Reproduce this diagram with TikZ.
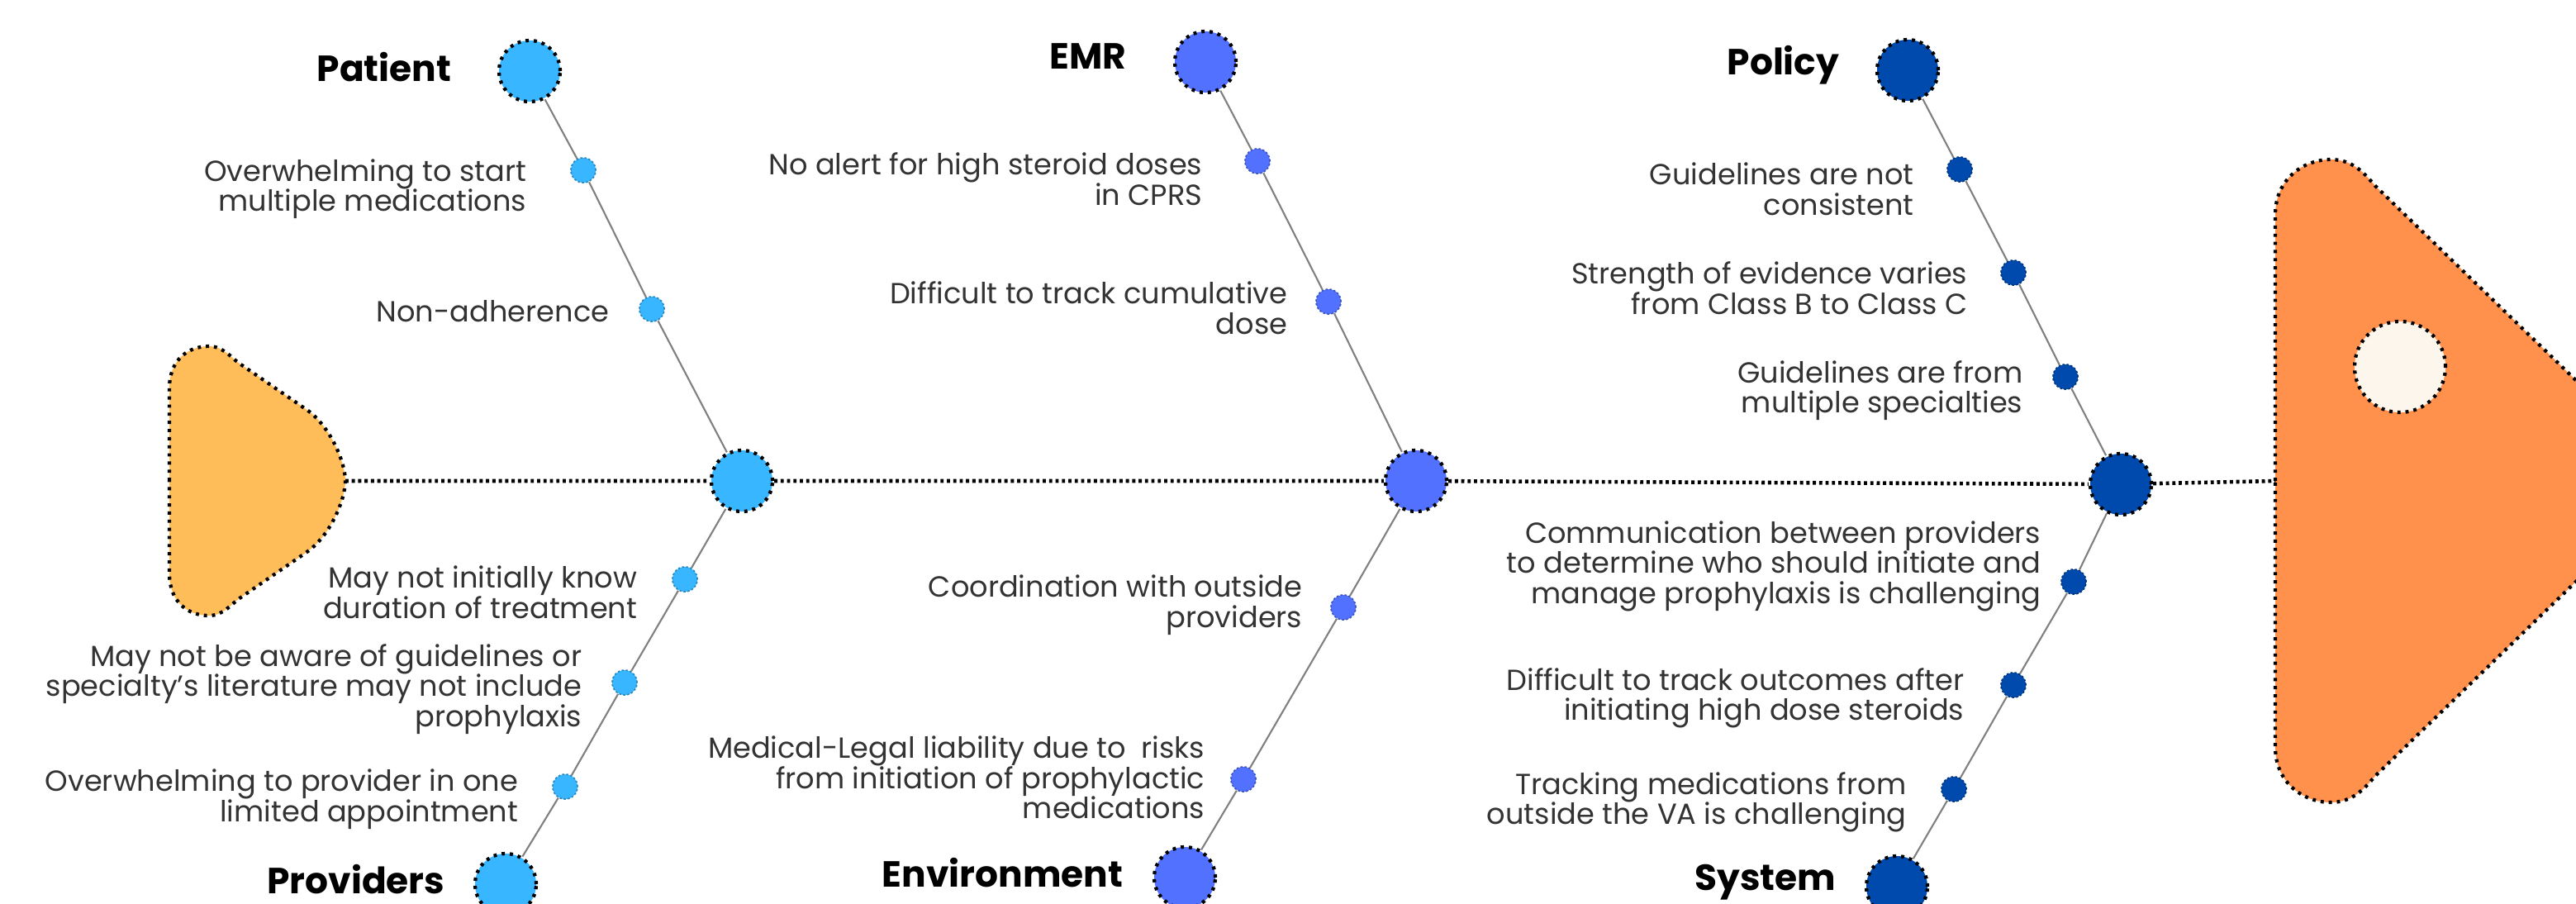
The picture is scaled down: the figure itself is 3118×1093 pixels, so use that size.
\documentclass[tikz,border=0pt]{standalone}
\usepackage{fontspec}
\setmainfont{Poppins}
\definecolor{cLight}{HTML}{38B6FF}
\definecolor{cMid}{HTML}{5271FF}
\definecolor{cDark}{HTML}{004AAD}
\definecolor{cTail}{HTML}{FFBD59}
\definecolor{cHead}{HTML}{FF914D}
\definecolor{cCream}{HTML}{FDF6EC}
\definecolor{txt}{HTML}{333333}
\tikzset{
  dotborder/.style={draw=black, line width=1.2pt, dash pattern=on 1.1pt off 1.7pt},
  bigdot/.style={circle, minimum size=0.74cm, inner sep=0pt, dotborder},
  smalldot/.style={circle, minimum size=0.30cm, inner sep=0pt, draw=#1!75!black, line width=0.5pt, dash pattern=on 0.7pt off 0.7pt, fill=#1},
  spine/.style={draw=black, line width=1.3pt, dash pattern=on 1.1pt off 1.1pt},
  branch/.style={draw=gray, line width=0.6pt},
  item/.style={anchor=east, align=right, inner sep=0pt, text=txt, font=\fontsize{10}{10.4}\selectfont},
  cat/.style={anchor=east, inner sep=0pt, text=black, font=\bfseries\fontsize{12.5}{14}\selectfont},
}
\begin{document}
\begin{tikzpicture}[x=0.01cm, y=-0.01cm]
\useasboundingbox (0,0) rectangle (3118,1093);
\fill[white] (0,0) rectangle (3118,1093);
\begin{scope}
\clip (0,0) rectangle (3118,1093);
% tail
\path[fill=cTail, dotborder] (205,582) -- (205,470)
  .. controls (205,435) and (228,419) .. (253,419)
  .. controls (270,419) and (280,433) .. (290,440)
  -- (370,495) .. controls (400,515) and (418,560) .. (418,582)
  .. controls (418,604) and (400,649) .. (370,669)
  -- (290,724) .. controls (280,731) and (270,745) .. (253,745)
  .. controls (228,745) and (205,729) .. (205,694) -- cycle;
% head
\path[fill=cHead, dotborder] (2754,582) -- (2754,260)
  .. controls (2754,215) and (2790,193) .. (2821,193)
  .. controls (2848,193) and (2862,210) .. (2875,225)
  -- (3190,530) .. controls (3215,555) and (3225,570) .. (3230,582)
  .. controls (3225,594) and (3215,609) .. (3190,634)
  -- (2875,939) .. controls (2862,954) and (2848,971) .. (2821,971)
  .. controls (2790,971) and (2754,949) .. (2754,904) -- cycle;
\end{scope}
\node[circle, minimum size=1.10cm, inner sep=0pt, fill=cCream, dotborder] (eye) at (2905,444) {};
\coordinate (tailtip) at (418,582);
\coordinate (headL) at (2754,582);

% junctions
\node[bigdot, fill=cLight] (J1) at (898,582) {};
\node[bigdot, fill=cMid] (J2) at (1714,582) {};
\node[bigdot, fill=cDark] (J3) at (2567,586) {};
\draw[spine] (tailtip) -- (J1) (J1) -- (J2) (J2) -- (J3) (J3) -- (headL);

% category circles
\node[bigdot, fill=cLight] (P) at (641,86) {};
\node[bigdot, fill=cLight] (R) at (612,1070) {};
\node[bigdot, fill=cMid] (E) at (1459,75) {};
\node[bigdot, fill=cMid] (V) at (1434,1062) {};
\node[bigdot, fill=cDark] (Y) at (2309,85) {};
\node[bigdot, fill=cDark] (S) at (2296,1073) {};

% item dots
\node[smalldot=cLight] (p1) at (706,206) {};
\node[smalldot=cLight] (p2) at (789,374) {};
\node[smalldot=cLight] (r1) at (829,701) {};
\node[smalldot=cLight] (r2) at (756,826) {};
\node[smalldot=cLight] (r3) at (684,952) {};
\node[smalldot=cMid] (e1) at (1522,195) {};
\node[smalldot=cMid] (e2) at (1608,365) {};
\node[smalldot=cMid] (v1) at (1626,735) {};
\node[smalldot=cMid] (v2) at (1505,943) {};
\node[smalldot=cDark] (y1) at (2372,205) {};
\node[smalldot=cDark] (y2) at (2437,330) {};
\node[smalldot=cDark] (y3) at (2500,456) {};
\node[smalldot=cDark] (s1) at (2510,704) {};
\node[smalldot=cDark] (s2) at (2437,829) {};
\node[smalldot=cDark] (s3) at (2365,955) {};

% branches
\draw[branch] (P) -- (p1) -- (p2) -- (J1);
\draw[branch] (J1) -- (r1) -- (r2) -- (r3) -- (R);
\draw[branch] (E) -- (e1) -- (e2) -- (J2);
\draw[branch] (J2) -- (v1) -- (v2) -- (V);
\draw[branch] (Y) -- (y1) -- (y2) -- (y3) -- (J3);
\draw[branch] (J3) -- (s1) -- (s2) -- (s3) -- (S);

% category labels
\node[cat] (lP) at (547,81) {Patient};
\node[cat] (lR) at (539,1064) {Providers};
\node[cat] (lE) at (1364,68) {EMR};
\node[cat] (lV) at (1360,1056) {Environment};
\node[cat] (lY) at (2227,79) {Policy};
\node[cat] (lS) at (2223,1068) {System};

% item texts
\node[item] (tp1) at (638,228.5) {Overwhelming to start\\multiple medications};
\node[item] (tp2) at (738,377) {Non-adherence};
\node[item] (tr1) at (772,717) {May not initially know\\duration of treatment};
\node[item] (tr2) at (705,834) {May not be aware of guidelines or\\specialty's literature may not include\\prophylaxis};
\node[item] (tr3) at (628,967) {Overwhelming to provider in one\\limited appointment};
\node[item] (te1) at (1456,216.5) {No alert for high steroid doses\\in CPRS};
\node[item] (te2) at (1559,372.5) {Difficult to track cumulative\\dose};
\node[item] (tv1) at (1577,732) {Coordination with outside\\providers};
\node[item] (tv2) at (1459,941) {Medical-Legal liability due to\ \ risks\\from initiation of prophylactic\\medications};
\node[item] (ty1) at (2317,228.5) {Guidelines are not\\consistent};
\node[item] (ty2) at (2382,348.5) {Strength of evidence varies\\from Class B to Class C};
\node[item] (ty3) at (2449,472.5) {Guidelines are from\\multiple specialties};
\node[item] (ts1) at (2471,685) {Communication between providers\\to determine who should initiate and\\manage prophylaxis is challenging};
\node[item] (ts2) at (2378,845) {Difficult to track outcomes after\\initiating high dose steroids};
\node[item] (ts3) at (2308,971) {Tracking medications from\\outside the VA is challenging};
\end{tikzpicture}
\end{document}
